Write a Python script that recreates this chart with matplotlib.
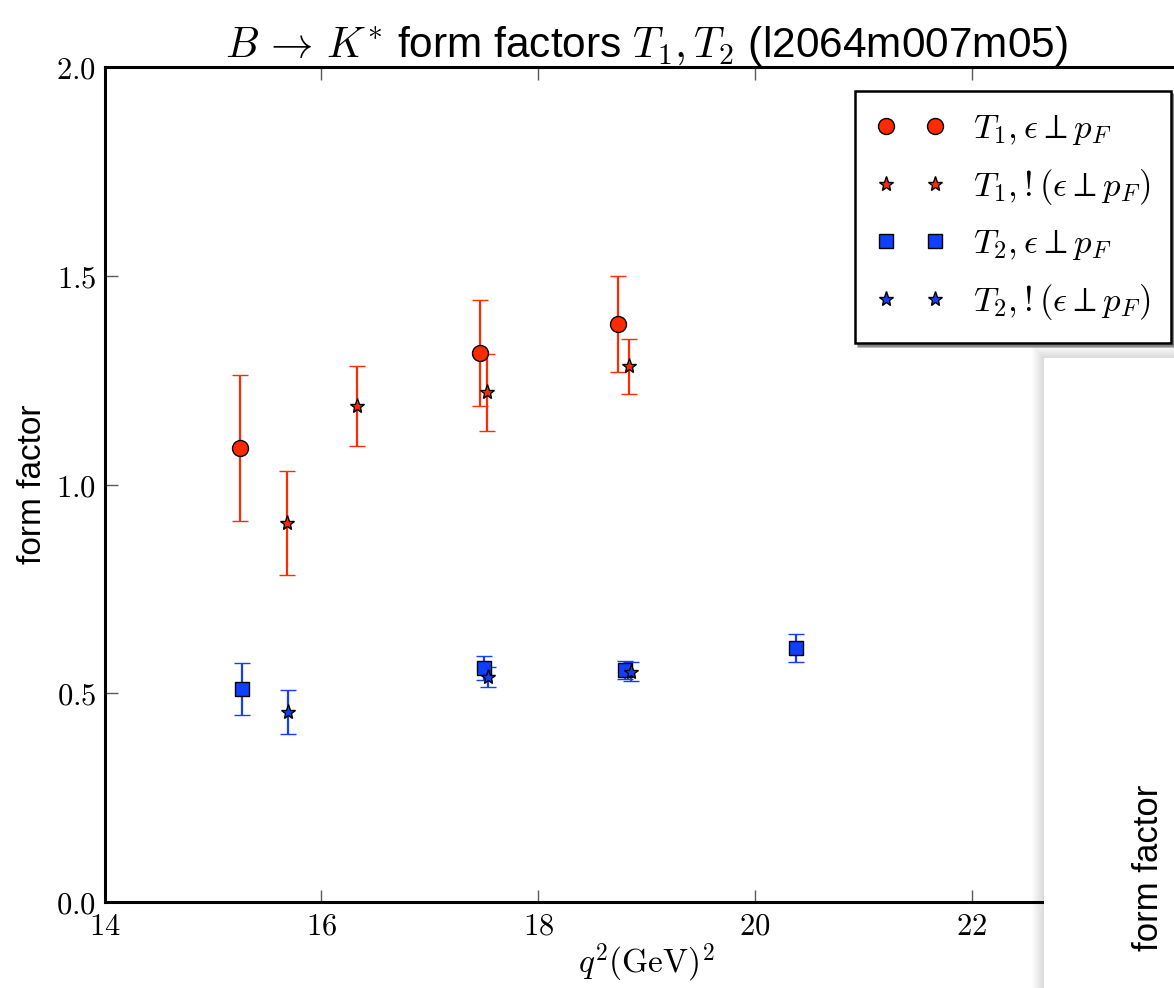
import matplotlib
matplotlib.use('Agg')
import matplotlib.pyplot as plt
from matplotlib.lines import Line2D
from matplotlib.patches import Rectangle
from matplotlib.ticker import FormatStrFormatter, MultipleLocator

plt.rcParams['mathtext.fontset'] = 'cm'
plt.rcParams['font.family'] = ['Liberation Sans', 'DejaVu Sans']

# T1, eps perp p_F
t1_perp_q2 = [15.25, 17.46, 18.74]
t1_perp_ff = [1.088, 1.316, 1.385]
t1_perp_err = [0.175, 0.127, 0.115]
# T1, !(eps perp p_F)
t1_nperp_q2 = [15.68, 16.33, 17.53, 18.84]
t1_nperp_ff = [0.908, 1.188, 1.221, 1.283]
t1_nperp_err = [0.124, 0.095, 0.092, 0.066]
# T2, eps perp p_F
t2_perp_q2 = [15.27, 17.50, 18.80, 20.38]
t2_perp_ff = [0.510, 0.560, 0.556, 0.608]
t2_perp_err = [0.062, 0.029, 0.021, 0.033]
# T2, !(eps perp p_F)
t2_nperp_q2 = [15.69, 17.54, 18.86]
t2_nperp_ff = [0.455, 0.538, 0.552]
t2_nperp_err = [0.052, 0.024, 0.022]

labels = [r'$T_1, \epsilon \perp p_F$', r'$T_1, !(\epsilon \perp p_F)$',
          r'$T_2, \epsilon \perp p_F$', r'$T_2, !(\epsilon \perp p_F)$']
xticks = [14, 16, 18, 20, 22]

RED = '#ff2a00'
BLUE = '#1040ff'

W, H = 1174, 988
fig = plt.figure(figsize=(W / 100, H / 100), dpi=100, facecolor='white')
ax = fig.add_axes([104.5 / W, 86 / H, 1084 / W, 835 / H])


def draw(x, y, err, color, marker, ms):
    ax.errorbar(x, y, yerr=err, fmt=marker, ms=ms, mfc=color, mec='k', mew=1.0,
                ecolor=color, elinewidth=1.6, capsize=5.5, capthick=1.6,
                zorder=3)


draw(t1_perp_q2, t1_perp_ff, t1_perp_err, RED, 'o', 11.5)
draw(t1_nperp_q2, t1_nperp_ff, t1_nperp_err, RED, '*', 11)
draw(t2_perp_q2, t2_perp_ff, t2_perp_err, BLUE, 's', 10.5)
draw(t2_nperp_q2, t2_nperp_ff, t2_nperp_err, BLUE, '*', 11)

ax.set_xlim(14, 24)
ax.set_ylim(0, 2.0)
ax.set_xticks(xticks)
ax.yaxis.set_major_locator(MultipleLocator(0.5))
ax.xaxis.set_major_formatter(FormatStrFormatter(r'$%d$'))
ax.yaxis.set_major_formatter(FormatStrFormatter(r'$%.1f$'))
ax.tick_params(direction='in', length=9, width=1, color='0.35',
               top=True, right=True, labelsize=22)
ax.tick_params(axis='x', pad=7)
ax.tick_params(axis='y', pad=6)
for s in ax.spines.values():
    s.set_linewidth(2.2)

ax.set_title(r'$B \,\to\, K^{*}$ form factors $T_1, T_2$ (l2064m007m05)',
             fontsize=30.5, pad=7)
ax.set_ylabel('form factor', fontsize=24, labelpad=6)
ax.set_xlabel(r'$q^2 (\mathrm{GeV})^2$', fontsize=24, labelpad=0)

handles = [
    Line2D([], [], ls='none', marker='o', ms=11.5, mfc=RED, mec='k', mew=1.0),
    Line2D([], [], ls='none', marker='*', ms=11, mfc=RED, mec='k', mew=1.0),
    Line2D([], [], ls='none', marker='s', ms=10.5, mfc=BLUE, mec='k', mew=1.0),
    Line2D([], [], ls='none', marker='*', ms=11, mfc=BLUE, mec='k', mew=1.0),
]
leg = ax.legend(handles, labels, loc='upper right', bbox_to_anchor=(0.984, 0.971),
                borderaxespad=0, numpoints=2, fontsize=25, shadow=True,
                fancybox=False, handlelength=2.0, handletextpad=0.8,
                labelspacing=0.58, borderpad=0.6, framealpha=1)
leg.get_frame().set_edgecolor('k')
leg.get_frame().set_linewidth(1.8)

# the next slide's figure panel overlapping on the right
px0, py0 = 1044, 358
for i in range(12, 0, -1):
    fig.add_artist(Rectangle(((px0 - i) / W, 0), (W - px0 + i) / W,
                             (H - py0 + i) / H, transform=fig.transFigure,
                             facecolor='k', edgecolor='none', alpha=0.012,
                             zorder=5))
fig.add_artist(Rectangle((px0 / W, 0), (W - px0) / W, (H - py0) / H,
                         transform=fig.transFigure, facecolor='white',
                         edgecolor='none', zorder=6))
fig.text(1148 / W, 1 - 868 / H, 'form factor', rotation=90, fontsize=25,
         ha='center', va='center', zorder=7)

fig.savefig('out.png', dpi=100, facecolor='white')
